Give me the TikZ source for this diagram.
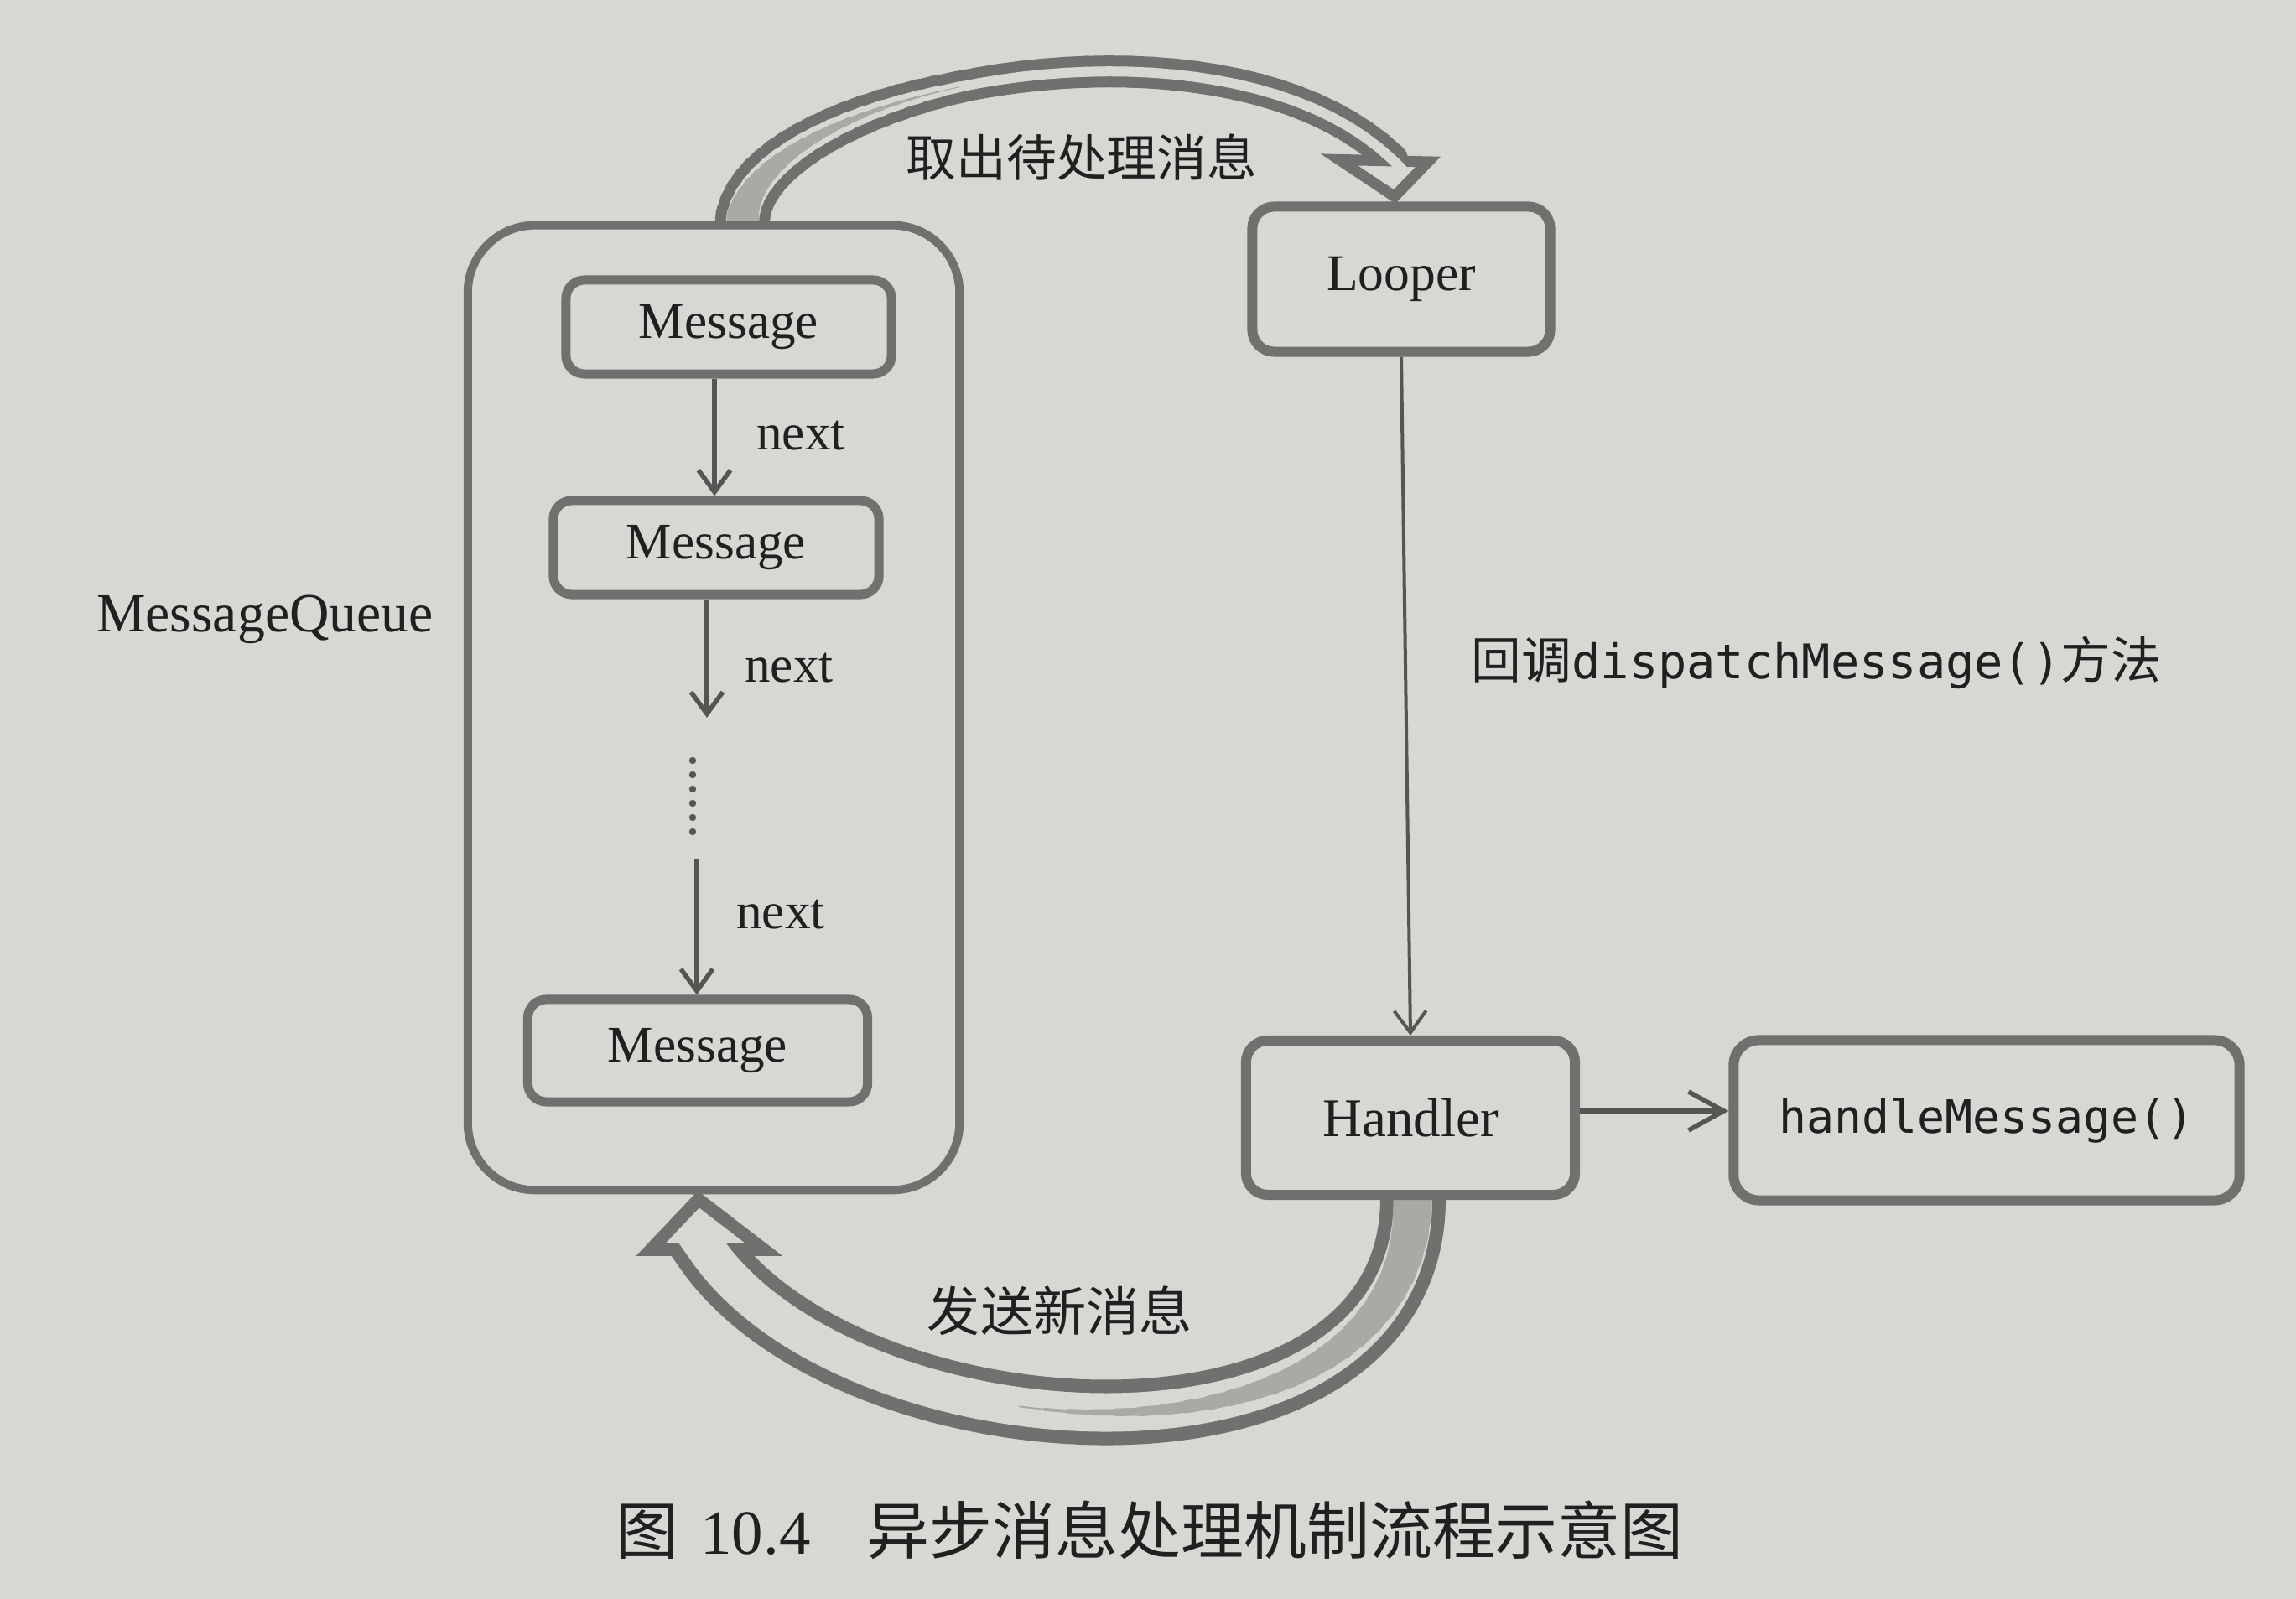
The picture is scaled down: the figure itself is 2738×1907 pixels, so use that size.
\documentclass[tikz,border=0pt]{standalone}
\usepackage{fontspec}
\setmainfont{Liberation Serif}
\newfontfamily\cjk{Noto Sans CJK SC}
\newfontfamily\mono{DejaVu Sans Mono}
\usetikzlibrary{arrows.meta,calc}
\pgfdeclarelayer{paperlayer}
\pgfdeclarelayer{bandlayer}
\pgfsetlayers{paperlayer,bandlayer,main}
\definecolor{paper}{RGB}{213,216,211}
\definecolor{edgegray}{RGB}{112,113,110}
\definecolor{shadegray}{RGB}{168,170,166}
\definecolor{ink}{RGB}{32,32,32}
\definecolor{arrowgray}{RGB}{85,86,84}
\tikzset{
  box/.style={draw=edgegray, line width=0.11cm, rounded corners=0.22cm, fill=paper, inner sep=0pt, text=ink},
  msgbox/.style={box, minimum width=3.88cm, minimum height=1.12cm, font=\fontsize{17.4pt}{20pt}\selectfont},
  lbl/.style={text=ink, inner sep=0pt},
  linkarrow/.style={draw=arrowgray, line width=0.055cm, -{Straight Barb[length=0.26cm,width=0.38cm]}},
}
\begin{document}
\begin{tikzpicture}[x=0.01cm,y=-0.01cm]
\useasboundingbox (0,0) rectangle (2738,1907);
\begin{pgfonlayer}{paperlayer}
\fill[paper] (0,0) rectangle (2738,1907);
\end{pgfonlayer}

% ---------- MessageQueue ----------
\node[box, line width=0.1cm, rounded corners=0.8cm, minimum width=5.86cm, minimum height=11.5cm] (mq) at (851,844) {};
\node[lbl, font=\fontsize{18.7pt}{22pt}\selectfont] (mql) at (316,739) {MessageQueue};

\node[msgbox] (m1) at (869,390) {Message};
\node[msgbox] (m2) at (854,653) {Message};
\node[msgbox, minimum width=4.05cm, minimum height=1.22cm] (m3) at (832,1253) {Message};

\coordinate (x1) at (852,0);
\coordinate (x2) at (843,0);
\coordinate (e2) at (843,856);
\coordinate (s3) at (831,1025);
\draw[linkarrow] (m1.south -| x1) -- (m2.north -| x1);
\draw[linkarrow] (m2.south -| x2) -- (e2);
\draw[linkarrow] (s3) -- (m3.north -| s3);
\foreach \k in {0,...,5} \fill[arrowgray] (826,907+17*\k) circle (0.042cm);

\node[lbl, font=\fontsize{17.4pt}{20pt}\selectfont] (n1) at (955,520) {next};
\node[lbl, font=\fontsize{17.4pt}{20pt}\selectfont] (n2) at (941,797) {next};
\node[lbl, font=\fontsize{17.4pt}{20pt}\selectfont] (n3) at (931,1091) {next};

% ---------- Looper / Handler ----------
\node[box, line width=0.12cm, rounded corners=0.26cm, minimum width=3.55cm, minimum height=1.73cm, font=\fontsize{17.5pt}{20pt}\selectfont] (looper) at (1671,333) {Looper};
\node[box, line width=0.12cm, rounded corners=0.26cm, minimum width=3.92cm, minimum height=1.84cm, font=\fontsize{18.5pt}{21pt}\selectfont] (handler) at (1682,1333) {Handler};
\node[box, line width=0.12cm, rounded corners=0.3cm, minimum width=6.03cm, minimum height=1.91cm, font=\mono\fontsize{15.6pt}{18pt}\selectfont] (hm) at (2369,1336) {handleMessage()};

\draw[linkarrow, line width=0.04cm] (looper.south) -- (handler.north);
\coordinate (hy) at (0,1325);
\draw[linkarrow, -{Straight Barb[length=0.42cm,width=0.46cm]}] (handler.east |- hy) -- (hm.west |- hy);

\node[lbl] (cb) at (2166,790) {\cjk\fontsize{17pt}{20pt}\selectfont 回调{\mono\fontsize{16.2pt}{20pt}\selectfont dispatchMessage()}方法};

% ---------- top block arrow (tapering ribbon) ----------
\coordinate (ta0) at ($(mq.north)+(34,6)$);
\coordinate (ta1) at (884,110);
\coordinate (ta2) at (1450,-10);
\coordinate (tatip) at ($(looper.north)+(-8,-6)$);
\coordinate (ta3) at ($(tatip)+(-3,-44.5)$);
\coordinate (taL) at ($(tatip)+(-66,-44)$);
\coordinate (taR) at ($(tatip)+(40,-41.5)$);
\coordinate (taE) at ($(ta3)!-0.16cm!(ta2)$);
\foreach \i in {0,...,40} {\pgfmathsetmacro\tp{\i/40}
  \path (ta0) .. controls (ta1) and (ta2) .. (ta3) coordinate[pos=\tp] (tq\i);}
\begin{pgfonlayer}{bandlayer}
\foreach \i in {0,...,39} {\pgfmathtruncatemacro\j{\i+1}\pgfmathsetmacro\wo{0.38+0.28*max(0,1-(\i+0.5)/18)}
  \draw[edgegray, line width=\wo cm, line cap=round] (tq\i) -- (tq\j);}
\filldraw[fill=paper, draw=edgegray, line width=0.13cm, line join=miter] (taL) -- (tatip) -- (taR) -- cycle;
\foreach \i in {0,...,39} {\pgfmathtruncatemacro\j{\i+1}\pgfmathsetmacro\wi{0.12+0.28*max(0,1-(\i+0.5)/18)}
  \draw[paper, line width=\wi cm, line cap=round] (tq\i) -- (tq\j);}
\draw[paper, line width=0.12cm, line cap=round] (ta3) -- (taE);
\foreach \i in {0,...,17} {\pgfmathtruncatemacro\j{\i+1}\pgfmathsetmacro\ws{(0.12+0.28*(1-(\i+0.5)/18))*(1-(\i+0.5)/19)}
  \draw[shadegray, line width=\ws cm, line cap=round] (tq\i) -- (tq\j);}
\end{pgfonlayer}
\node[lbl, font=\cjk\fontsize{17pt}{20pt}\selectfont] (tl) at (1290,188) {取出待处理消息};

% ---------- bottom block arrow ----------
\coordinate (tb0) at ($(handler.south)+(3,-6)$);
\coordinate (tb1) at (1690,1780);
\coordinate (tb2) at (1017,1740);
\coordinate (tbtip) at ($(mq.south)+(-18,6)$);
\coordinate (tb3) at ($(tbtip)+(10,60)$);
\coordinate (tbL) at ($(tbtip)+(-57,60)$);
\coordinate (tbR) at ($(tbtip)+(78,60)$);
\coordinate (tbEo) at ($(tb3)!-0.25cm!(tb2)$);
\coordinate (tbEi) at ($(tb3)!-0.28cm!(tb2)$);
\begin{pgfonlayer}{bandlayer}
\draw[edgegray, line width=0.78cm] (tb0) .. controls (tb1) and (tb2) .. (tb3) -- (tbEo);
\filldraw[fill=paper, draw=edgegray, line width=0.15cm, line join=miter] (tbL) -- (tbtip) -- (tbR) -- cycle;
\draw[paper, line width=0.46cm] (tb0) .. controls (tb1) and (tb2) .. (tb3) -- (tbEi);
\foreach \i in {0,...,24} {\pgfmathsetmacro\tp{\i/40}
  \path (tb0) .. controls (tb1) and (tb2) .. (tb3) coordinate[pos=\tp] (bsh\i);}
\foreach \i in {0,...,23} {\pgfmathtruncatemacro\j{\i+1}\pgfmathsetmacro\w{0.46*(1-\i/24)}
  \draw[shadegray, line width=\w cm, line cap=round] (bsh\i) -- (bsh\j);}
\end{pgfonlayer}
\node[lbl, font=\cjk\fontsize{18pt}{21pt}\selectfont] (bl) at (1264,1563) {发送新消息};

% ---------- caption ----------
\node[lbl, font=\fontsize{21.3pt}{24pt}\selectfont] (cap) at (1371,1825) {{\cjk 图}\hspace{0.35em}10.4\hspace{0.9em}{\cjk 异步消息处理机制流程示意图}};
\end{tikzpicture}
\end{document}
